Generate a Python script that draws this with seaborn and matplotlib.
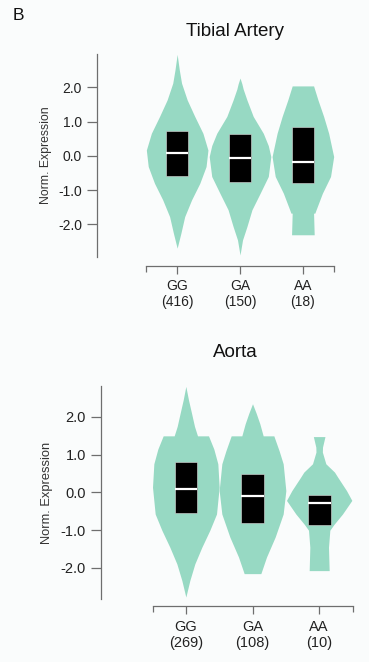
import matplotlib
matplotlib.use("Agg")
import matplotlib.pyplot as plt
import seaborn as sns

# Genotype groups and sample counts
genotypes = ["GG", "GA", "AA"]
tibial_counts = [416, 150, 18]
aorta_counts = [269, 108, 10]

# Violin outlines: expression levels and the half-width of the density at each level
tibial_gg_levels = [2.96, 2.5, 2.12, 1.63, 1.15, 0.66, 0.17, -0.31, -0.80, -1.28, -1.77, -2.25, -2.69]
tibial_gg_width = [0.0, 0.035, 0.07, 0.16, 0.28, 0.41, 0.49, 0.46, 0.36, 0.23, 0.12, 0.06, 0.0]
tibial_ga_levels = [2.27, 2.1, 1.95, 1.63, 1.15, 0.66, 0.30, -0.02, -0.60, -1.09, -1.57, -2.06, -2.45, -2.89]
tibial_ga_width = [0.0, 0.03, 0.05, 0.11, 0.21, 0.37, 0.45, 0.49, 0.45, 0.32, 0.19, 0.11, 0.04, 0.0]
tibial_aa_levels = [2.04, 1.63, 1.15, 0.66, -0.02, -0.60, -1.09, -1.57, -1.67, -1.67, -2.30]
tibial_aa_width = [0.17, 0.24, 0.33, 0.41, 0.49, 0.44, 0.31, 0.21, 0.19, 0.17, 0.18]

aorta_gg_levels = [2.81, 2.45, 2.08, 1.75, 1.50, 1.50, 1.15, 0.76, 0.14, -0.57, -1.00, -1.45, -1.89, -2.33, -2.77]
aorta_gg_width = [0.0, 0.04, 0.088, 0.13, 0.175, 0.34, 0.42, 0.48, 0.50, 0.46, 0.36, 0.24, 0.135, 0.06, 0.0]
aorta_ga_levels = [2.35, 2.10, 1.82, 1.50, 1.50, 1.10, 0.76, 0.05, -0.57, -1.18, -1.71, -2.15]
aorta_ga_width = [0.0, 0.055, 0.11, 0.16, 0.32, 0.40, 0.46, 0.50, 0.46, 0.34, 0.21, 0.125]
aorta_aa_levels = [1.48, 1.20, 1.07, 0.76, 0.54, 0.40, 0.05, -0.21, -0.57, -0.85, -1.00, -1.45, -2.07]
aorta_aa_width = [0.087, 0.05, 0.048, 0.10, 0.23, 0.28, 0.41, 0.49, 0.35, 0.22, 0.16, 0.14, 0.15]

# Interquartile boxes: (q1, median, q3)
tibial_quartiles = [(-0.60, 0.08, 0.73), (-0.75, -0.07, 0.63), (-0.78, -0.18, 0.85)]
aorta_quartiles = [(-0.55, 0.10, 0.80), (-0.81, -0.10, 0.49), (-0.86, -0.29, -0.06)]

yticks = [-2.0, -1.0, 0.0, 1.0, 2.0]

sns.set_theme(style="ticks")
plt.rcParams["font.family"] = ["Liberation Sans", "DejaVu Sans"]

VIOLIN = "#97d9c3"
AXIS = "#6e6e6e"
BG = "#fafcfc"

fig = plt.figure(figsize=(3.69, 6.62), dpi=100, facecolor=BG)


def draw_panel(rect, title, title_x, title_y, profiles, quartiles, counts,
               ylim, left_offset, bottom_offset, fs, label_x, linesp, xpad):
    ax = fig.add_axes(rect)
    ax.set_facecolor(BG)
    for i, (lv, hw) in enumerate(profiles):
        ax.fill_betweenx(lv, [i - w for w in hw], [i + w for w in hw],
                         color=VIOLIN, linewidth=0)
    box_w = 0.34
    for i, (q1, med, q3) in enumerate(quartiles):
        ax.bar(i, q3 - q1, bottom=q1, width=box_w, color="black",
               edgecolor="#dddddd", linewidth=0.4, zorder=3)
        ax.hlines(med, i - box_w / 2, i + box_w / 2, color="white",
                  linewidth=1.6, zorder=4)
    ax.set_xlim(-0.5, 2.5)
    ax.set_ylim(*ylim)
    ax.set_yticks(yticks)
    ax.set_yticklabels([f"{t:.1f}" for t in yticks])
    ax.set_xticks(range(len(genotypes)))
    ax.set_xticklabels([f"{g}\n({n})" for g, n in zip(genotypes, counts)],
                       linespacing=linesp)
    ax.set_xticks([-0.5, 2.5], minor=True)
    ax.tick_params(axis="y", direction="out", length=7, width=0.9, color=AXIS,
                   pad=3.5, labelsize=fs, labelcolor="#222222")
    ax.tick_params(axis="x", which="major", direction="out", length=6, width=0.9,
                   color=AXIS, pad=xpad, labelsize=fs, labelcolor="#222222")
    ax.tick_params(axis="x", which="minor", direction="out", length=4.5, width=0.9,
                   color=AXIS)
    ax.set_ylabel("Norm. Expression", fontsize=fs - 1.2, color="#333333", va="center")
    ax.yaxis.set_label_coords(label_x, 0.5)
    ax.set_title(title, fontsize=13.5, color="#111111", x=title_x, y=title_y,
                 va="center", pad=0)
    sns.despine(ax=ax, offset=dict(left=left_offset, bottom=bottom_offset))
    for side in ("left", "bottom"):
        ax.spines[side].set_color(AXIS)
        ax.spines[side].set_linewidth(0.9)
    ax.grid(False)
    return ax


draw_panel([0.3949, 0.6122, 0.5111, 0.3057], "Tibial Artery", 0.473, 1.115,
           [(tibial_gg_levels, tibial_gg_width),
            (tibial_ga_levels, tibial_ga_width),
            (tibial_aa_levels, tibial_aa_width)],
           tibial_quartiles, tibial_counts, (-2.94, 2.96), 35.3, 6.5, 10, -0.531, 1.5, 3.5)

draw_panel([0.4133, 0.0947, 0.5420, 0.3222], "Aorta", 0.415, 1.156,
           [(aorta_gg_levels, aorta_gg_width),
            (aorta_ga_levels, aorta_ga_width),
            (aorta_aa_levels, aorta_aa_width)],
           aorta_quartiles, aorta_counts, (-2.83, 2.82), 37.4, 4.8, 10.5, -0.5275, 1.75, 3.8)

fig.text(13 / 369, 1 - 16 / 662, "B", fontsize=12.5, va="center", ha="left", color="#111111")

fig.savefig("out.png", dpi=100, facecolor=BG)
